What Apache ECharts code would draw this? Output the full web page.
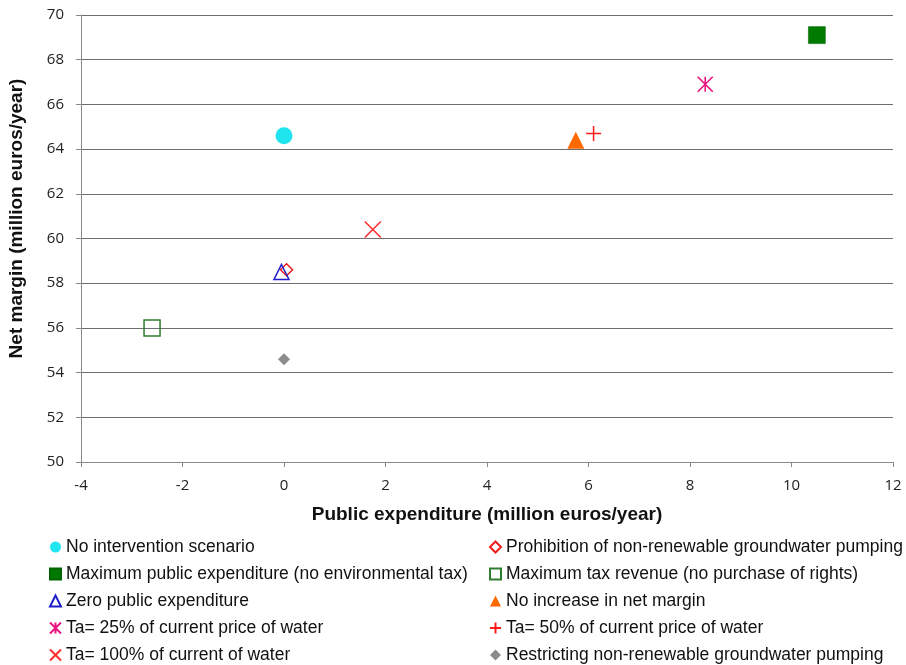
<!DOCTYPE html>
<html>
<head>
<meta charset="utf-8">
<script src="https://cdn.jsdelivr.net/npm/echarts@6/dist/echarts.min.js"></script>
<style>
  html, body { margin: 0; padding: 0; background: #fff; }
  #chart { width: 906px; height: 665px; }
</style>
</head>
<body>
<div id="chart"></div>
<script>
// Scenario names, in legend order (left column, then right column)
const scenarios = [
  'No intervention scenario',
  'Prohibition of non-renewable groundwater pumping',
  'Maximum public expenditure (no environmental tax)',
  'Maximum tax revenue (no purchase of rights)',
  'Zero public expenditure',
  'No increase in net margin',
  'Ta= 25% of current price of water',
  'Ta= 50% of current price of water',
  'Ta= 100% of current of water',
  'Restricting non-renewable groundwater pumping'
];
// Public expenditure (million euros/year)
const expenditure = [0, 0.05, 10.5, -2.6, -0.05, 5.75, 8.3, 6.1, 1.75, 0];
// Net margin (million euros/year)
const netMargin = [64.6, 58.6, 69.1, 56.0, 58.5, 64.4, 66.9, 64.7, 60.4, 54.6];

const xTicks = { min: -4, max: 12, interval: 2 };
const yTicks = { min: 50, max: 70, interval: 2 };

const PLUS = 'path://M5,0L5,10M0,5L10,5';
const CROSS = 'path://M0,0L10,10M10,0L0,10';
const STAR = 'path://M0,0L10,10M10,0L0,10M5,0L5,10';

// Marker look per scenario
const markers = [
  { symbol: 'circle',   size: 17, itemStyle: { color: '#1fe6ee' } },
  { symbol: 'diamond',  size: 12, itemStyle: { color: '#ffffff', borderColor: '#ee1c1c', borderWidth: 1.5 } },
  { symbol: 'rect',     size: 17, itemStyle: { color: '#007a00', borderColor: '#006400', borderWidth: 0.5 } },
  { symbol: 'rect',     size: 16, itemStyle: { color: 'rgba(255,255,255,0)', borderColor: '#2e7d2e', borderWidth: 1.5 } },
  { symbol: 'triangle', size: 15, itemStyle: { color: 'rgba(255,255,255,0)', borderColor: '#1f1fcc', borderWidth: 1.5 } },
  { symbol: 'triangle', size: 17, itemStyle: { color: '#ff6a00' } },
  { symbol: STAR,       size: 15, itemStyle: { color: 'rgba(0,0,0,0)', borderColor: '#e8167f', borderWidth: 1.6 } },
  { symbol: PLUS,       size: 15, itemStyle: { color: 'rgba(0,0,0,0)', borderColor: '#ff1a1a', borderWidth: 1.5 } },
  { symbol: CROSS,      size: 16, itemStyle: { color: 'rgba(0,0,0,0)', borderColor: '#ff2a2a', borderWidth: 1.5 } },
  { symbol: 'diamond',  size: 12, itemStyle: { color: '#8c8c8c' } }
];

const series = scenarios.map((name, i) => ({
  name: name,
  type: 'scatter',
  symbol: markers[i].symbol,
  symbolSize: markers[i].size,
  itemStyle: Object.assign({ opacity: 1 }, markers[i].itemStyle),
  data: [[expenditure[i], netMargin[i]]],
  z: 3
}));

const leftCol = scenarios.filter((_, i) => i % 2 === 0);
const rightCol = scenarios.filter((_, i) => i % 2 === 1);

const legendCommon = {
  orient: 'vertical',
  top: 538,
  height: 127,
  padding: 0,
  itemWidth: 11,
  itemHeight: 11,
  itemGap: 9,
  selectedMode: false,
  textStyle: { fontFamily: 'Liberation Sans', fontSize: 17.5, color: '#111' }
};

const axisLabelStyle = { fontFamily: 'Open Sans', fontSize: 15, color: '#222' };
const axisNameStyle = { fontFamily: 'Liberation Sans', fontSize: 19, fontWeight: 'bold', color: '#111' };

const chart = echarts.init(document.getElementById('chart'), null, { renderer: 'canvas' });
chart.setOption({
  animation: false,
  backgroundColor: '#ffffff',
  grid: { left: 81, right: 13, top: 15, bottom: 203, outerBoundsMode: 'none', containLabel: false },
  legend: [
    Object.assign({}, legendCommon, { left: 49, data: leftCol }),
    Object.assign({}, legendCommon, { left: 489, data: rightCol })
  ],
  xAxis: {
    type: 'value',
    min: xTicks.min, max: xTicks.max, interval: xTicks.interval,
    name: 'Public expenditure (million euros/year)',
    nameLocation: 'middle',
    nameGap: 43,
    nameTextStyle: axisNameStyle,
    axisLine: { show: true, onZero: false, lineStyle: { color: '#8a8a8a', width: 1 } },
    axisTick: { show: true, length: 5, lineStyle: { color: '#8a8a8a' } },
    axisLabel: Object.assign({ margin: 16 }, axisLabelStyle),
    splitLine: { show: false }
  },
  yAxis: {
    type: 'value',
    min: yTicks.min, max: yTicks.max, interval: yTicks.interval,
    name: 'Net margin (million euros/year)',
    nameLocation: 'middle',
    nameGap: 55,
    nameTextStyle: Object.assign({ padding: [0, 0, 0, 40] }, axisNameStyle),
    axisLine: { show: true, onZero: false, lineStyle: { color: '#8a8a8a', width: 1 } },
    axisTick: { show: true, length: 5, lineStyle: { color: '#8a8a8a' } },
    axisLabel: Object.assign({ margin: 17 }, axisLabelStyle),
    splitLine: { show: true, lineStyle: { color: '#6e6e6e', width: 1 } }
  },
  series: series
});
</script>
</body>
</html>
